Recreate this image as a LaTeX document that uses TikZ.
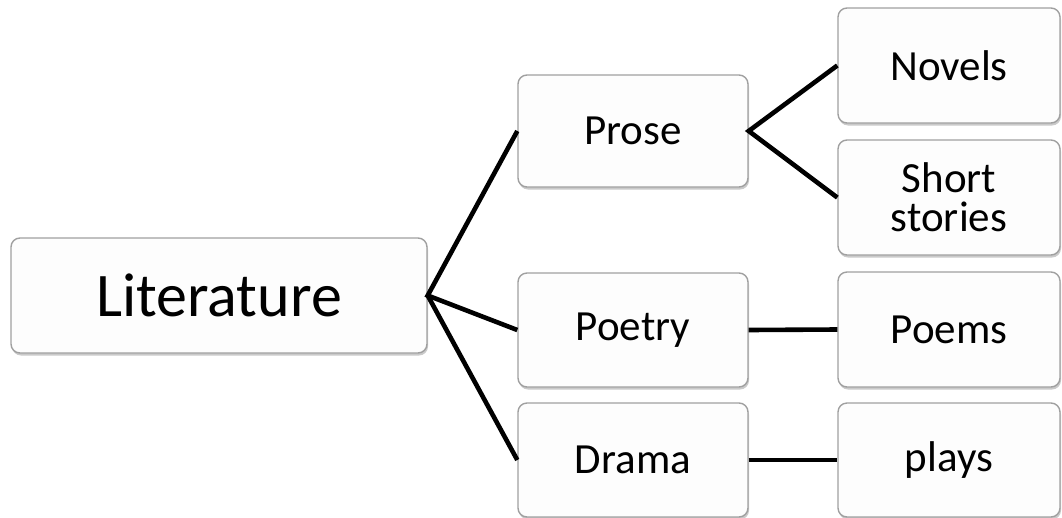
\documentclass[tikz,border=0pt]{standalone}
\usepackage{fontspec}
\setmainfont{Carlito}
\usetikzlibrary{shadows}
\definecolor{boxborder}{HTML}{A0A0A0}
\definecolor{boxfill}{HTML}{FDFDFD}
\tikzset{
  card/.style={draw=boxborder, line width=1.4pt, fill=boxfill, rounded corners=9pt,
    inner sep=0pt, align=center, text=black,
    drop shadow={shadow xshift=1pt, shadow yshift=-2.5pt, opacity=0.35, fill=black!60}},
  bigtext/.style={font=\fontsize{62}{66}\selectfont},
  midtext/.style={font=\fontsize{43}{39}\selectfont},
  link/.style={line width=4.6pt, black}
}
\begin{document}
\begin{tikzpicture}[x=1pt, y=-1pt]
\useasboundingbox (0,0) rectangle (1062,517);
\node[card, bigtext, minimum width=416pt, minimum height=115pt] (lit) at (219,295.5) {Literature};
\node[card, midtext, minimum width=230pt, minimum height=112pt] (prose) at (633,131) {Prose};
\node[card, midtext, minimum width=230pt, minimum height=114pt] (poetry) at (633,330) {Poetry};
\node[card, midtext, minimum width=230pt, minimum height=114pt] (drama) at (633,460) {Drama};
\node[card, midtext, minimum width=222pt, minimum height=115pt] (novels) at (949,65.5) {Novels};
\node[card, midtext, minimum width=222pt, minimum height=115pt] (short) at (949,197.5) {Short\\stories};
\node[card, midtext, minimum width=222pt, minimum height=115pt] (poems) at (949,329.5) {Poems};
\node[card, midtext, minimum width=222pt, minimum height=114pt] (plays) at (949,460) {plays};
\draw[link] (prose.west) -- (lit.east) -- (poetry.west);
\draw[link] (lit.east) -- (drama.west);
\draw[link] (novels.west) -- (prose.east) -- (short.west);
\draw[link] (poetry.east) -- (poems.west);
\draw[link] (drama.east) -- (plays.west);
\end{tikzpicture}
\end{document}
